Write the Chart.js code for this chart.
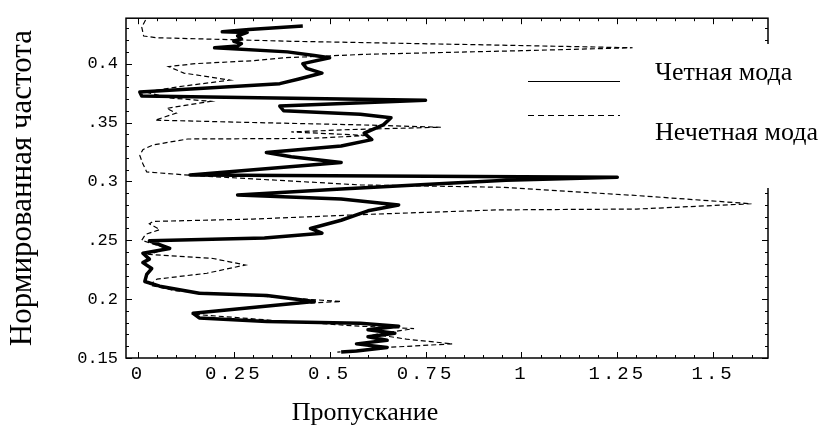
<!DOCTYPE html>
<html>
<head>
<meta charset="utf-8">
<script src="https://cdn.jsdelivr.net/npm/chart.js@4.4.1/dist/chart.umd.min.js"></script>
<style>
  html, body { margin: 0; padding: 0; background: #fff; }
  #wrap { position: relative; width: 825px; height: 428px; }
</style>
</head>
<body>
<div id="wrap"><canvas id="chart" width="825" height="428"></canvas></div>
<script>
// even mode (solid, thick): transmission vs normalized frequency
var evenY = [0.432, 0.429, 0.427, 0.4265, 0.4235, 0.421, 0.419, 0.417, 0.415, 0.4135, 0.410, 0.407, 0.405, 0.400, 0.396, 0.392, 0.387, 0.383, 0.376, 0.3725, 0.369, 0.364, 0.360, 0.357, 0.354, 0.348, 0.341, 0.3355, 0.330, 0.3245, 0.321, 0.316, 0.3055, 0.3035, 0.301, 0.2985, 0.2935, 0.2885, 0.285, 0.280, 0.275, 0.267, 0.260, 0.256, 0.252, 0.2495, 0.243, 0.239, 0.234, 0.231, 0.226, 0.221, 0.215, 0.211, 0.205, 0.203, 0.198, 0.188, 0.184, 0.181, 0.1795, 0.177, 0.174, 0.171, 0.168, 0.165, 0.162, 0.159, 0.156, 0.155];
var evenX = [0.43, 0.29, 0.22, 0.285, 0.26, 0.27, 0.25, 0.27, 0.26, 0.2, 0.39, 0.46, 0.5, 0.43, 0.44, 0.48, 0.42, 0.37, 0.005, 0.01, 0.75, 0.37, 0.38, 0.58, 0.66, 0.64, 0.59, 0.61, 0.53, 0.335, 0.4, 0.53, 0.136, 1.25, 0.96, 0.81, 0.53, 0.26, 0.53, 0.68, 0.6, 0.53, 0.45, 0.48, 0.33, 0.03, 0.083, 0.013, 0.03, 0.013, 0.036, 0.023, 0.018, 0.057, 0.16, 0.336, 0.46, 0.144, 0.16, 0.336, 0.58, 0.68, 0.6, 0.67, 0.6, 0.65, 0.57, 0.65, 0.57, 0.53];

// odd mode (dashed, thin)
var oddY = [0.437, 0.431, 0.4235, 0.422, 0.419, 0.416, 0.4135, 0.411, 0.408, 0.405, 0.4025, 0.400, 0.3975, 0.392, 0.386, 0.381, 0.376, 0.371, 0.368, 0.362, 0.358, 0.352, 0.350, 0.348, 0.346, 0.344, 0.342, 0.339, 0.3365, 0.336, 0.331, 0.327, 0.322, 0.315, 0.308, 0.305, 0.297, 0.295, 0.288, 0.281, 0.2765, 0.2758, 0.272, 0.268, 0.266, 0.264, 0.259, 0.255, 0.250, 0.243, 0.238, 0.2345, 0.229, 0.222, 0.217, 0.212, 0.207, 0.203, 0.198, 0.195, 0.190, 0.187, 0.182, 0.177, 0.175, 0.170, 0.166, 0.162, 0.159, 0.155];
var oddX = [0.02, 0.01, 0.015, 0.05, 0.4, 0.9, 1.29, 1.0, 0.6, 0.38, 0.3, 0.15, 0.08, 0.12, 0.24, 0.12, 0.02, 0.08, 0.19, 0.075, 0.1, 0.045, 0.3, 0.58, 0.79, 0.55, 0.4, 0.6, 0.45, 0.13, 0.04, 0.013, 0.005, 0.013, 0.023, 0.144, 0.58, 0.95, 1.3, 1.6, 1.3, 0.94, 0.6, 0.3, 0.04, 0.03, 0.057, 0.02, 0.01, 0.075, 0.03, 0.196, 0.28, 0.18, 0.05, 0.03, 0.1, 0.3, 0.53, 0.35, 0.2, 0.15, 0.35, 0.58, 0.72, 0.62, 0.7, 0.82, 0.65, 0.52];

var xTicks = [0, 0.25, 0.5, 0.75, 1, 1.25, 1.5];
var xTickLabels = ['0', '0.25', '0.5', '0.75', '1', '1.25', '1.5'];
var yTicks = [0.15, 0.2, 0.25, 0.3, 0.35, 0.4];
var yTickLabels = ['0.15', '0.2', '.25', '0.3', '.35', '0.4'];

var seriesNames = ['Четная мода', 'Нечетная мода'];
var xTitle = 'Пропускание';
var yTitle = 'Нормированная частота';

function toPoints(xs, ys) {
  return xs.map(function (x, i) { return { x: x, y: ys[i] }; });
}

// frame with inward ticks, legend box and x title (Mathematica style)
var framePlugin = {
  id: 'frame',
  afterDatasetsDraw: function (chart) {
    chart.ctx.letterSpacing = '3px';
  },
  afterDraw: function (chart) {
    var ctx = chart.ctx;
    var a = chart.chartArea;
    var sx = chart.scales.x, sy = chart.scales.y;
    ctx.save();
    ctx.letterSpacing = '0px';
    ctx.strokeStyle = '#000';
    ctx.lineWidth = 1.5;
    ctx.strokeRect(a.left, a.top, a.right - a.left, a.bottom - a.top);

    ctx.lineWidth = 1;
    ctx.beginPath();
    var v, px, len;
    for (var i = 0; i <= 32; i++) {
      v = i * 0.05;
      px = Math.round(sx.getPixelForValue(v)) + 0.5;
      len = (i % 5 === 0) ? 6 : 3;
      ctx.moveTo(px, a.bottom); ctx.lineTo(px, a.bottom - len);
      ctx.moveTo(px, a.top); ctx.lineTo(px, a.top + len);
    }
    for (var j = 15; j <= 43; j++) {
      v = j * 0.01;
      px = Math.round(sy.getPixelForValue(v)) + 0.5;
      len = (j % 5 === 0) ? 6 : 3;
      ctx.moveTo(a.left, px); ctx.lineTo(a.left + len, px);
      ctx.moveTo(a.right, px); ctx.lineTo(a.right - len, px);
    }
    ctx.stroke();

    // legend sits over the right edge of the frame
    ctx.fillStyle = '#fff';
    ctx.fillRect(645, 44, 180, 144);
    var ds = chart.data.datasets;
    var rows = [81, 115];
    ctx.lineWidth = 1.2;
    for (var k = 0; k < ds.length; k++) {
      ctx.setLineDash(ds[k].borderDash ? [6, 4] : []);
      ctx.beginPath();
      ctx.moveTo(528, rows[k] + 0.5);
      ctx.lineTo(620, rows[k] + 0.5);
      ctx.stroke();
    }
    ctx.setLineDash([]);
    ctx.fillStyle = '#000';
    ctx.font = '26px "Liberation Serif"';
    ctx.textAlign = 'left';
    ctx.textBaseline = 'alphabetic';
    ctx.fillText(ds[0].label, 655, 80);
    ctx.fillText(ds[1].label, 655, 140);

    ctx.textAlign = 'center';
    ctx.fillText(xTitle, 365, 420);
    ctx.restore();
  }
};

var ctx = document.getElementById('chart').getContext('2d');
new Chart(ctx, {
  type: 'scatter',
  data: {
    datasets: [
      {
        label: seriesNames[0],
        data: toPoints(evenX, evenY),
        showLine: true,
        borderColor: '#000',
        borderWidth: 3.5,
        borderJoinStyle: 'round',
        pointRadius: 0,
        fill: false
      }, {
        label: seriesNames[1],
        data: toPoints(oddX, oddY),
        showLine: true,
        borderColor: '#000',
        borderWidth: 1.2,
        borderDash: [5, 3],
        pointRadius: 0,
        fill: false
      }
    ]
  },
  options: {
    responsive: false,
    animation: false,
    layout: { padding: { top: 14, right: 57, left: 0, bottom: 0 } },
    plugins: { legend: { display: false }, tooltip: { enabled: false } },
    scales: {
      x: {
        type: 'linear',
        min: -0.031,
        max: 1.643,
        grid: { display: false, drawTicks: false },
        border: { display: false },
        afterBuildTicks: function (s) { s.ticks = xTicks.map(function (v) { return { value: v }; }); },
        afterFit: function (s) { s.height = 70; },
        ticks: {
          z: 1,
          autoSkip: false,
          maxRotation: 0,
          padding: 5,
          color: '#000',
          font: { family: 'Liberation Mono', size: 19 },
          callback: function (v, i) { return xTickLabels[i]; }
        }
      },
      y: {
        type: 'linear',
        min: 0.15,
        max: 0.4386,
        grid: { display: false, drawTicks: false },
        border: { display: false },
        afterBuildTicks: function (s) { s.ticks = yTicks.map(function (v) { return { value: v }; }); },
        afterFit: function (s) { s.width = 126; },
        ticks: {
          autoSkip: false,
          padding: 8,
          color: '#000',
          font: { family: 'Liberation Mono', size: 17 },
          callback: function (v, i) { return yTickLabels[i]; }
        },
        title: {
          display: true,
          text: yTitle,
          color: '#000',
          font: { family: 'Liberation Serif', size: 31 },
          padding: { top: 4, bottom: 0 }
        }
      }
    }
  },
  plugins: [framePlugin]
});
</script>
</body>
</html>
